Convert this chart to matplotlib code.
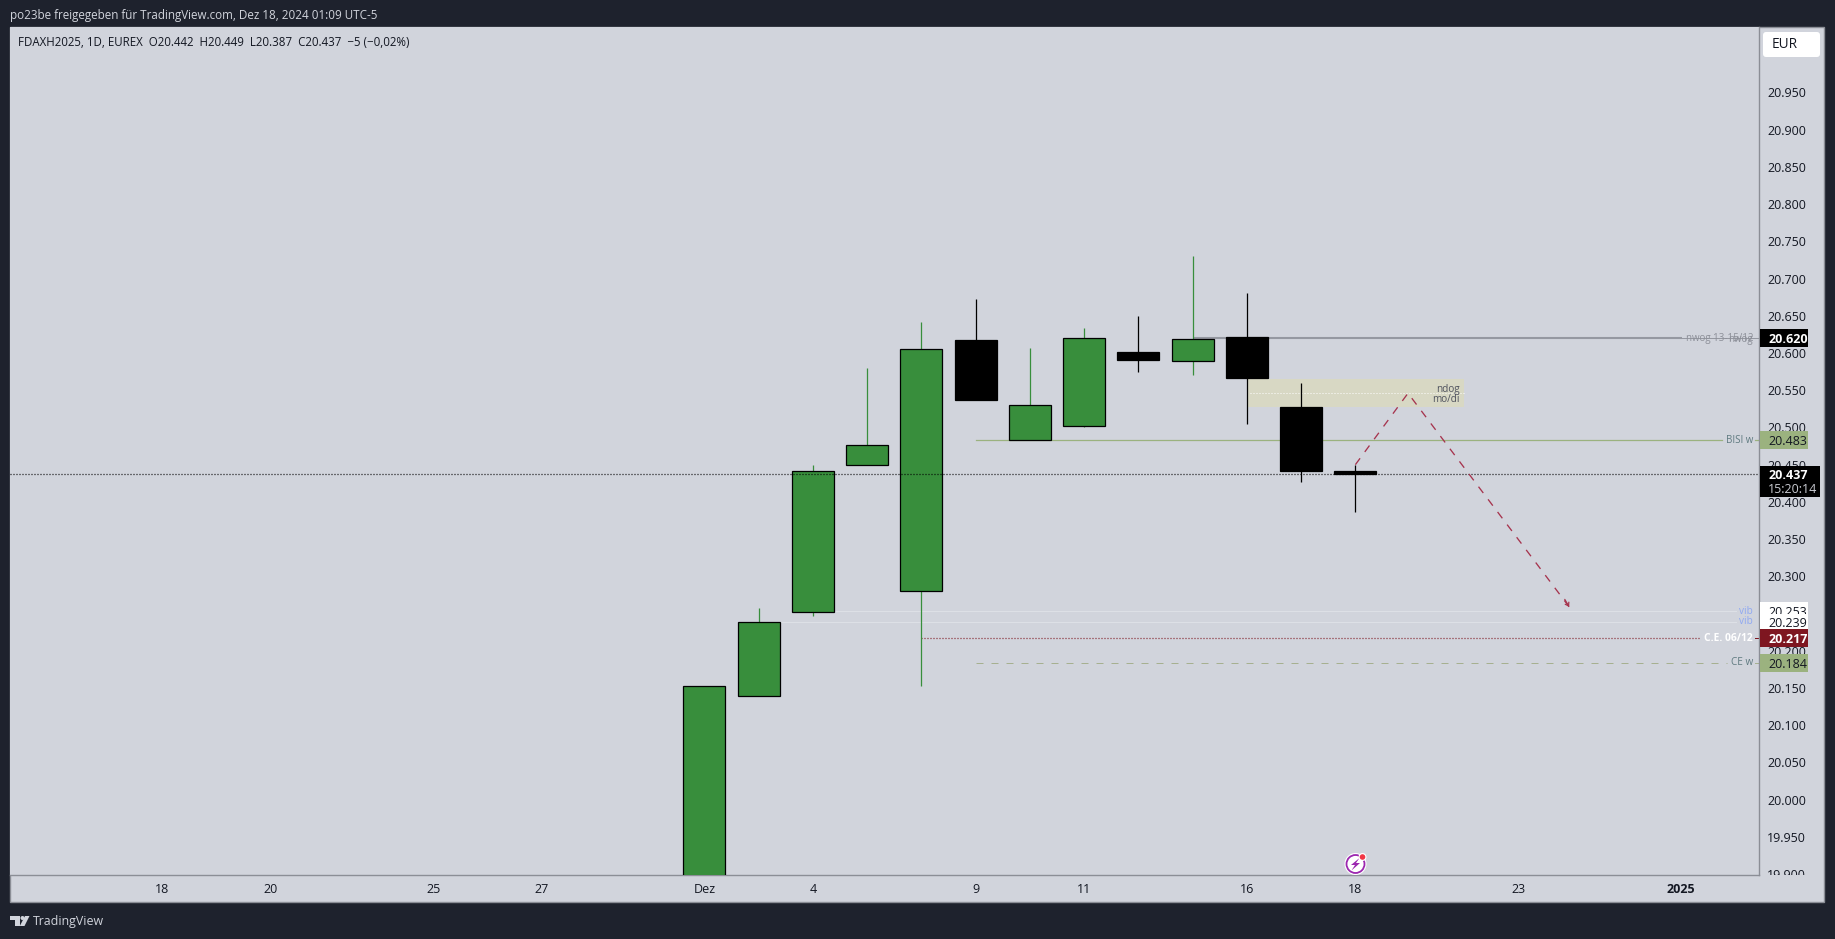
import matplotlib
matplotlib.use("Agg")
import matplotlib.pyplot as plt
from matplotlib.patches import Rectangle, FancyBboxPatch, Polygon, Circle
from matplotlib.transforms import Bbox

FONT = "Open Sans"
plt.rcParams["font.family"] = [FONT, "DejaVu Sans"]

# ---------- data ----------
idx    = list(range(13))
opens  = [19790, 20139, 20252, 20449, 20280, 20618, 20483, 20502, 20601, 20589, 20621, 20527, 20442]
highs  = [20153, 20257, 20449, 20580, 20641, 20673, 20607, 20634, 20650, 20730, 20681, 20560, 20449]
lows   = [19790, 20139, 20246, 20449, 20152, 20537, 20483, 20500, 20574, 20570, 20504, 20427, 20387]
closes = [20152, 20239, 20442, 20477, 20606, 20537, 20530, 20620, 20590, 20619, 20566, 20441, 20437]

x_tick_pos    = [-10, -8, -5, -3, 0, 2, 5, 7, 10, 12, 15, 18]
x_tick_labels = ["18", "20", "25", "27", "Dez", "4", "9", "11", "16", "18", "23", "2025"]
y_ticks = list(range(19900, 20951, 50))

last_price = 20437
nwog, bisi, vib1, vib2, ce_dec, ce_w = 20620, 20483, 20253, 20239, 20217, 20184
ndog_low, ndog_mid, ndog_high = 20527, 20546.5, 20565
path_x = [12, 12.97, 15.94]
path_y = [20450, 20546, 20259]

# ---------- colours ----------
DARK = "#1E222D"; PANEL = "#D1D4DC"; EDGE = "#8B8E96"; TXT = "#131722"
GREEN = "#388E3C"; SAGE = "#9BB27F"; RED = "#7E1620"; LABEL = "#5F7A80"
GRAY = "#9598A1"; VIB = "#DDE0E6"; VIBT = "#8FA8F2"; ZONE = "#D8D8C4"; PATH = "#A6344E"

W, H = 1835, 939
fig = plt.figure(figsize=(W / 100, H / 100), dpi=100, facecolor=DARK)

def px_axes(zorder):
    a = fig.add_axes([0, 0, 1, 1], zorder=zorder)
    a.set_xlim(0, W); a.set_ylim(H, 0); a.axis("off")
    a.patch.set_alpha(0)
    return a

bg = px_axes(0)
bg.add_patch(Rectangle((10, 27), 1814, 875, fc=PANEL, ec=EDGE, lw=1.0))

L, R, T, B = 10, 1759, 27, 875
ax = fig.add_axes([L / W, 1 - B / H, (R - L) / W, (B - T) / H], zorder=1, facecolor=PANEL)
ax.set_xlim(-12.8, 19.44)
ax.set_ylim(19898.7, 21038)
for s in ("top", "left"):
    ax.spines[s].set_visible(False)
for s in ("right", "bottom"):
    ax.spines[s].set_color(EDGE); ax.spines[s].set_linewidth(1.0)

ax.yaxis.tick_right()
ax.set_yticks(y_ticks)
ax.set_yticklabels([f"{v/1000:.3f}" for v in y_ticks])
ax.tick_params(axis="y", length=0, pad=5.8, labelsize=9, labelcolor=TXT)
ax.set_xticks(x_tick_pos)
ax.set_xticklabels(x_tick_labels)
ax.tick_params(axis="x", length=0, pad=6.0, labelsize=9, labelcolor=TXT)
ax.get_xticklabels()[-1].set_fontweight("bold")
first = ax.get_yticklabels()[0]
first.set_clip_on(True)
first.set_clip_box(Bbox([[1760, H - B], [1824, H - B + 40]]))

# zone
ax.add_patch(Rectangle((10, ndog_low), 4, ndog_high - ndog_low, fc=ZONE, ec="none", zorder=1.5))
ax.plot([10.05, 14], [ndog_mid, ndog_mid], color="white", lw=0.72, ls=(0, (1, 2)), zorder=1.6)
ax.text(13.92, ndog_mid + 4.5, "ndog", ha="right", va="center", fontsize=7.2, color="#50535E", zorder=1.7)
ax.text(13.92, ndog_mid - 9.5, "mo/di", ha="right", va="center", fontsize=7.2, color="#50535E", zorder=1.7)

# level lines
ax.plot([9, 18.02], [nwog, nwog], color=GRAY, lw=1.5, zorder=1.8, solid_capstyle="butt")
ax.plot([18.02, 19.44], [nwog, nwog], color=GRAY, lw=0.72, zorder=1.8)
ax.plot([5, 18.76], [bisi, bisi], color=SAGE, lw=0.9, zorder=1.8)
ax.plot([19.37, 19.44], [bisi, bisi], color=SAGE, lw=0.9, zorder=1.8)
ax.plot([2, 19.02], [vib1, vib1], color=VIB, lw=0.75, zorder=1.8)
ax.plot([1, 19.02], [vib2, vib2], color=VIB, lw=0.75, zorder=1.8)
ax.plot([4, 18.34], [ce_dec, ce_dec], color=RED, lw=0.9, ls=(0, (0.8, 1.6)), zorder=1.8)
ax.plot([19.37, 19.44], [ce_dec, ce_dec], color=RED, lw=0.72, zorder=1.8)
ax.plot([5, 18.85], [ce_w, ce_w], color="#A6B090", lw=0.72, ls=(0, (7, 8)), zorder=1.8)
ax.plot([19.37, 19.44], [ce_w, ce_w], color="#A6B090", lw=0.72, zorder=1.8)

X_LAB = 19.33
ax.text(X_LAB, nwog, "nwog 13-15/12", ha="right", va="center", fontsize=7.0, color="#8D9099", zorder=2)
ax.text(X_LAB, nwog - 1.5, "nwog", ha="right", va="center", fontsize=7.0, color="#8D9099", zorder=2)
ax.text(X_LAB, bisi, "BISI w", ha="right", va="center", fontsize=7.0, color=LABEL, zorder=2)
ax.text(X_LAB, vib1, "vib", ha="right", va="center", fontsize=7.2, color=VIBT, zorder=2)
ax.text(X_LAB, vib2, "vib", ha="right", va="center", fontsize=7.2, color=VIBT, zorder=2)
ax.text(X_LAB, ce_dec, "C.E. 06/12", ha="right", va="center", fontsize=7.4, color="white", fontweight="bold", zorder=2)
ax.text(X_LAB, ce_w, "CE w", ha="right", va="center", fontsize=7.2, color=LABEL, zorder=2)

# candles
BODY = 0.775
for i, o, h, l, c in zip(idx, opens, highs, lows, closes):
    col = GREEN if c >= o else "black"
    ax.vlines(i, l, h, color=col, lw=0.9, zorder=3)
    ax.bar(i, abs(c - o), bottom=min(o, c), width=BODY, color=col, edgecolor="black", linewidth=0.9, zorder=3.1)

# last price
ax.axhline(last_price, color="black", lw=0.9, ls=(0, (0.8, 1.6)), zorder=3.5)

# projected path
ax.plot(path_x, path_y, color=PATH, lw=0.95, ls=(0, (6, 6)), zorder=3.6)
ax.annotate("", xy=(path_x[-1], path_y[-1]),
            xytext=(path_x[-1] - 0.08, path_y[-1] + 10),
            arrowprops=dict(arrowstyle="->,head_length=0.22,head_width=0.15", color=PATH, lw=0.9,
                            shrinkA=0, shrinkB=0), zorder=3.6)

# price labels on the scale
tr = ax.get_yaxis_transform()
def tag(val, txt, fc, tc, bold=False, lo=12, hi=12, w=0.0279, z=5):
    ax.add_patch(Rectangle((1.0004, val - lo), w, lo + hi, transform=tr, fc=fc, ec="none", clip_on=False, zorder=z))
    ax.text(1.0052, val, txt, transform=tr, ha="left", va="center_baseline", fontsize=9, color=tc,
            fontweight="bold" if bold else "normal", clip_on=False, zorder=z + 0.1)

tag(nwog, "20.620", "black", "white", True)
tag(bisi, "20.483", SAGE, TXT)
tag(vib1, "20.253", "white", TXT, z=5.2)
tag(vib2, "20.239", "white", TXT, lo=11, hi=11, z=5.4)
tag(ce_dec, "20.217", RED, "white", True, z=5.6)
tag(ce_w, "20.184", SAGE, TXT, z=5.8)
tag(last_price, "20.437", "black", "white", True, lo=30, hi=11, w=0.0345, z=6)
ax.text(1.0052, last_price - 18.5, "15:20:14", transform=tr, ha="left", va="center_baseline", fontsize=9,
        color="#C8CAD0", clip_on=False, zorder=6.2)

# overlay: header, legend, scale button, logo, notice
top = px_axes(5)
top.text(10, 15, "po23be freigegeben für TradingView.com, Dez 18, 2024 01:09 UTC-5",
         ha="left", va="center", fontsize=8.37, color=PANEL)
top.text(18, 42, "FDAXH2025, 1D, EUREX  O20.442  H20.449  L20.387  C20.437  −5 (−0,02%)",
         ha="left", va="center", fontsize=8.3, color=TXT)
top.add_patch(FancyBboxPatch((1765, 34), 53, 21, boxstyle="round,pad=2,rounding_size=3", fc="white", ec="none"))
top.text(1772, 44, "EUR", ha="left", va="center", fontsize=9.8, color=TXT)

top.text(33, 921, "TradingView", ha="left", va="center", fontsize=8.9, color=PANEL)
top.add_patch(Polygon([(10, 916), (20, 916), (20, 926), (15, 926), (15, 920), (10, 920)], fc=PANEL, ec="none"))
top.add_patch(Circle((22.5, 918), 2.0, fc=PANEL, ec="none"))
top.add_patch(Polygon([(25, 916), (29.5, 916), (24.5, 926), (19.8, 926)], fc=PANEL, ec="none"))

cx, cy = 1355.5, 864
top.add_patch(Circle((cx, cy), 11, fc="white", ec="none"))
top.add_patch(Circle((cx, cy), 9, fc="none", ec="#9C27B0", lw=1.3))
top.add_patch(Polygon([(cx + 4, cy - 6), (cx - 4.5, cy + 1), (cx - 0.5, cy + 1), (cx - 4, cy + 6.5),
                       (cx + 4.5, cy - 1), (cx + 0.5, cy - 1)], fc="#9C27B0", ec="none"))
top.add_patch(Circle((cx + 7, cy - 7), 4, fc="white", ec="none"))
top.add_patch(Circle((cx + 7, cy - 7), 2.8, fc="#F23645", ec="none"))

fig.savefig("out.png", dpi=100, facecolor=DARK)
